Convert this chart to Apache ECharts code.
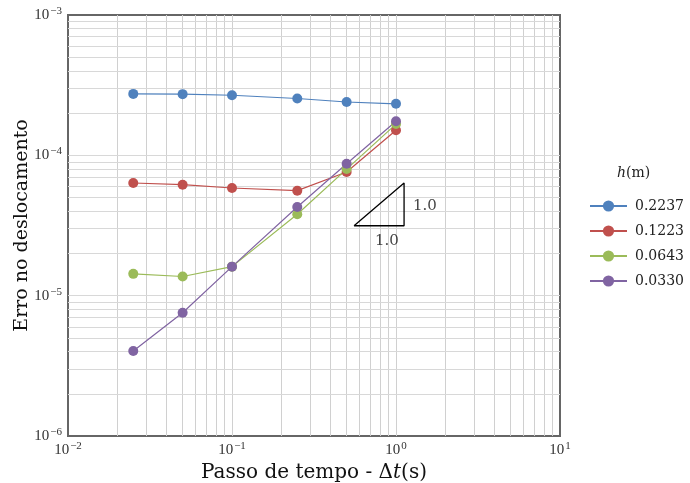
<!DOCTYPE html>
<html>
<head>
<meta charset="utf-8">
<script src="https://cdn.jsdelivr.net/npm/echarts@6/dist/echarts.min.js"></script>
<style>html,body{margin:0;padding:0;background:#fff}#c{width:690px;height:483px}</style>
</head>
<body>
<div id="c"></div>
<script>
// ---- data ----
var dt = [0.025, 0.05, 0.1, 0.25, 0.5, 1.0];
var seriesNames = ['0.2237', '0.1223', '0.0643', '0.0330'];
var err_02237 = [2.74e-4, 2.73e-4, 2.68e-4, 2.54e-4, 2.40e-4, 2.33e-4];
var err_01223 = [6.35e-5, 6.18e-5, 5.85e-5, 5.60e-5, 7.6e-5, 1.51e-4];
var err_00643 = [1.43e-5, 1.37e-5, 1.61e-5, 3.8e-5, 7.98e-5, 1.67e-4];
var err_00330 = [4.03e-6, 7.55e-6, 1.61e-5, 4.28e-5, 8.7e-5, 1.75e-4];
var triangleX = [0.555, 1.12, 1.12, 0.555];
var triangleY = [3.15e-5, 3.15e-5, 6.35e-5, 3.15e-5];
var slopeLabelX = [0.88, 1.50];
var slopeLabelY = [2.45e-5, 4.36e-5];
var slopeLabels = ['1.0', '1.0'];
var legendTitle = 'h';
var legendUnit = '(m)';
var xTitle = 'Passo de tempo - Δ';
var yTitle = 'Erro no deslocamento';

var colors = ['#4f81bd', '#c0504d', '#9bbb59', '#8064a2'];
var allSeries = [err_02237, err_01223, err_00643, err_00330];
var xMin = 0.01, xMax = 10, yMin = 1e-6, yMax = 1e-3;

function zip(xs, ys) { return xs.map(function (x, i) { return [x, ys[i]]; }); }

// grid line positions (decades 1..9)
var xGrid = [], yGrid = [];
for (var e = -2; e <= 0; e++) for (var k = 1; k <= 9; k++) { if (!(e === -2 && k === 1)) xGrid.push(k * Math.pow(10, e)); }
for (var e2 = -6; e2 <= -4; e2++) for (var k2 = 1; k2 <= 9; k2++) { if (!(e2 === -6 && k2 === 1)) yGrid.push(k2 * Math.pow(10, e2)); }

var font = 'DejaVu Serif';
function sup(v) {
  var ex = Math.round(Math.log10(v));
  return '{b|10}{s|' + (ex < 0 ? '\u2212' + (-ex) : ex) + '}';
}
var rich = {
  b: { fontSize: 15, fontFamily: 'Liberation Serif', color: '#333' },
  s: { fontSize: 11, fontFamily: 'Liberation Serif', color: '#333', padding: [0, 0, 8, 1] }
};

var gridItems = xGrid.map(function (v) {
  return [{ coord: [v, yMin], lineStyle: { color: '#d0d0d0', width: 1, type: 'solid' } }, { coord: [v, yMax] }];
}).concat(yGrid.map(function (v) {
  return [{ coord: [xMin, v], lineStyle: { color: '#d8d8d8', width: 1, type: 'solid' } }, { coord: [xMax, v] }];
}));

var series = [{
  type: 'line', name: '_grid', data: [[xMin, yMin]], z: 1, silent: true, symbol: 'none',
  lineStyle: { opacity: 0 },
  markLine: {
    silent: true, symbol: 'none', animation: false, z: 1,
    label: { show: false },
    data: gridItems
  }
}];
allSeries.forEach(function (ys, i) {
  series.push({
    type: 'line', name: seriesNames[i], data: zip(dt, ys), z: 3,
    symbol: 'circle', symbolSize: 10, showSymbol: true,
    itemStyle: { color: colors[i] },
    lineStyle: { color: colors[i], width: 1.2 }
  });
});
series.push({
  type: 'line', name: '_tri', data: zip(triangleX, triangleY), z: 4, silent: true,
  symbol: 'none', lineStyle: { color: '#000', width: 1.3 }
});
series.push({
  type: 'scatter', name: '_lab', z: 4, silent: true, symbolSize: 0,
  data: slopeLabelX.map(function (x, i) { return { value: [x, slopeLabelY[i]], label: { show: true, formatter: slopeLabels[i] } }; }),
  label: { position: 'inside', fontFamily: font, fontSize: 15, color: '#111' }
});

var chart = echarts.init(document.getElementById('c'));
chart.setOption({
  animation: false,
  backgroundColor: '#fff',
  grid: { left: 68, right: 130, top: 15, bottom: 47, containLabel: false, outerBoundsMode: 'none',
    show: true, borderColor: '#666', borderWidth: 2, backgroundColor: '#fff' },
  xAxis: {
    type: 'log', logBase: 10, min: xMin, max: xMax,
    name: '{n|' + xTitle + '}{i|t}{n|(s)}', nameLocation: 'middle', nameGap: 26,
    nameTextStyle: { rich: { n: { fontSize: 20, fontFamily: font, color: '#111' }, i: { fontSize: 20, fontFamily: font, fontStyle: 'italic', color: '#111' } } },
    axisLine: { show: true, lineStyle: { color: '#666', width: 2 } },
    axisTick: { show: false }, splitLine: { show: false },
    axisLabel: { formatter: sup, rich: rich, margin: 5 }
  },
  yAxis: {
    type: 'log', logBase: 10, min: yMin, max: yMax,
    name: yTitle, nameLocation: 'middle', nameGap: 36, nameMoveOverlap: false,
    nameTextStyle: { fontSize: 19, fontFamily: font, color: '#111' },
    axisLine: { show: true, lineStyle: { color: '#666', width: 2 } },
    axisTick: { show: false }, splitLine: { show: false },
    axisLabel: { formatter: sup, rich: rich, margin: 6 }
  },
  legend: {
    data: seriesNames, orient: 'vertical', left: 584, top: 194,
    itemWidth: 37, itemHeight: 14, itemGap: 11,
    textStyle: { fontFamily: font, fontSize: 14, color: '#222', padding: [0, 0, 0, 3] }
  },
  graphic: [{
    type: 'text', left: 617, top: 166,
    style: { text: '{i|' + legendTitle + '}{n|' + legendUnit + '}', rich: { i: { fontFamily: font, fontStyle: 'italic', fontSize: 14, fill: '#222' }, n: { fontFamily: font, fontSize: 14, fill: '#222' } } }
  }],
  series: series
});
</script>
</body>
</html>
